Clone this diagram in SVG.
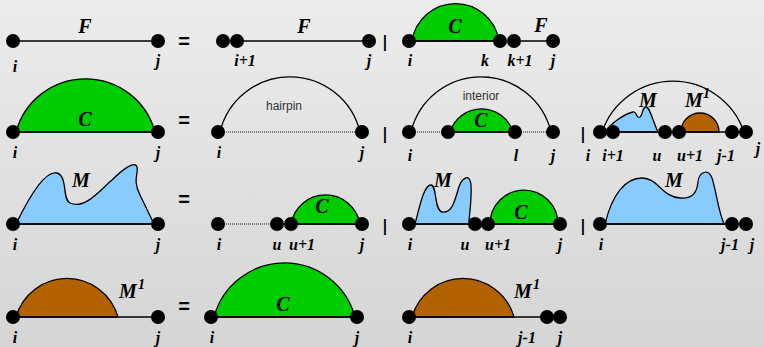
<svg xmlns="http://www.w3.org/2000/svg" width="764" height="347" viewBox="0 0 764 347">
<defs>
<linearGradient id="bg" x1="0" y1="0" x2="0" y2="1">
<stop offset="0" stop-color="#ececec"/>
<stop offset="1" stop-color="#d5d5d5"/>
</linearGradient>
</defs>
<style>
.dot{fill:#000}
.ln{stroke:#000;stroke-width:1.5;fill:none}
.dl{stroke:#555;stroke-width:1.5;stroke-dasharray:1 1;fill:none}
.arc{stroke:#000;stroke-width:1.3;fill:none}
.g{fill:#00cc00;stroke:#000;stroke-width:1.3}
.b{fill:#88ccff;stroke:#000;stroke-width:1.3}
.br{fill:#b36200;stroke:#000;stroke-width:1.3}
.lb{font-family:"Liberation Serif",serif;font-style:italic;font-weight:bold;font-size:16px;text-anchor:middle;fill:#000}
.big{font-family:"Liberation Serif",serif;font-style:italic;font-weight:bold;font-size:20px;text-anchor:middle;fill:#000}
.sup{font-family:"Liberation Serif",serif;font-style:italic;font-weight:bold;font-size:14px;fill:#000}
.op{font-family:"Liberation Sans",sans-serif;font-weight:bold;font-size:20px;text-anchor:middle;fill:#000}
.bar{font-family:"DejaVu Sans",sans-serif;font-weight:bold;font-size:16px;text-anchor:middle;fill:#000}
.sm{font-family:"Liberation Sans",sans-serif;font-size:12px;text-anchor:middle;fill:#333}
</style>
<rect width="764" height="347" fill="url(#bg)"/>

<!-- Row 1 -->
<g id="F_ij">
<line class="ln" x1="13" y1="41" x2="158" y2="41"/>
<circle class="dot" cx="13" cy="41" r="7"/><circle class="dot" cx="158" cy="41" r="7"/>
<text class="big" x="85" y="33">F</text>
<text class="lb" x="15" y="72">i</text><text class="lb" x="158" y="66">j</text>
</g>
<text class="op" x="184" y="48">=</text>
<g id="F_i1j">
<line class="ln" x1="237" y1="41" x2="369" y2="41"/>
<circle class="dot" cx="223" cy="41" r="7"/><circle class="dot" cx="237" cy="41" r="7"/><circle class="dot" cx="369" cy="41" r="7"/>
<text class="big" x="304" y="33">F</text>
<text class="lb" x="245" y="66">i+1</text><text class="lb" x="369" y="66">j</text>
</g>
<text class="bar" x="385" y="47">|</text>
<g id="C_ik_F_k1j">
<path class="g" d="M412,41 A44,44 0 0 1 499,41 Z"/>
<line class="ln" x1="409" y1="41" x2="500" y2="41"/>
<line class="ln" x1="514" y1="41" x2="553" y2="41"/>
<circle class="dot" cx="409" cy="41" r="7"/><circle class="dot" cx="500" cy="41" r="7"/><circle class="dot" cx="514" cy="41" r="7"/><circle class="dot" cx="553" cy="41" r="7"/>
<text class="big" x="455" y="33">C</text><text class="big" x="541" y="32">F</text>
<text class="lb" x="410" y="66">i</text><text class="lb" x="485" y="66">k</text><text class="lb" x="520" y="66">k+1</text><text class="lb" x="553" y="66">j</text>
</g>

<!-- Row 2 -->
<g id="C_ij">
<path class="g" d="M16,132 A72,72 0 0 1 155,132 Z"/>
<line class="ln" x1="13" y1="132" x2="158" y2="132"/>
<circle class="dot" cx="13" cy="132" r="7"/><circle class="dot" cx="158" cy="132" r="7"/>
<text class="big" x="85" y="126">C</text>
<text class="lb" x="15" y="158">i</text><text class="lb" x="158" y="158">j</text>
</g>
<text class="op" x="184" y="127">=</text>
<g id="hairpin">
<path class="arc" d="M220,132 A72,72 0 0 1 360,132"/>
<line class="dl" x1="218" y1="132" x2="362" y2="132"/>
<circle class="dot" cx="218" cy="132" r="7"/><circle class="dot" cx="362" cy="132" r="7"/>
<text class="sm" x="284" y="110">hairpin</text>
<text class="lb" x="219" y="158">i</text><text class="lb" x="362" y="158">j</text>
</g>
<text class="bar" x="385" y="139">|</text>
<g id="interior">
<path class="arc" d="M411,132 A72,72 0 0 1 551,132"/>
<path class="g" d="M450,132 A33,33 0 0 1 513,132 Z"/>
<line class="dl" x1="409" y1="132" x2="448" y2="132"/>
<line class="ln" x1="448" y1="132" x2="515" y2="132"/>
<line class="dl" x1="515" y1="132" x2="553" y2="132"/>
<circle class="dot" cx="409" cy="132" r="7"/><circle class="dot" cx="448" cy="132" r="7"/><circle class="dot" cx="515" cy="132" r="7"/><circle class="dot" cx="553" cy="132" r="7"/>
<text class="sm" x="481" y="100">interior</text>
<text class="big" x="481" y="127">C</text>
<text class="lb" x="410" y="161">i</text><text class="lb" x="516" y="161">l</text><text class="lb" x="553" y="161">j</text>
</g>
<text class="bar" x="583" y="139">|</text>
<g id="multiloop">
<path class="arc" d="M602,132 A75,75 0 0 1 744,132"/>
<path class="b" d="M605,132 C612,122 625,114 633,112 C637,111 636,119 640,117 C643,115 642,107 646,107 C650,107 653,122 658,132 Z"/>
<path class="br" d="M681,132 A19,19 0 0 1 719,132 Z"/>
<line class="ln" x1="600" y1="132" x2="746" y2="132"/>
<circle class="dot" cx="600" cy="132" r="7"/><circle class="dot" cx="613" cy="132" r="7"/><circle class="dot" cx="665" cy="132" r="7"/><circle class="dot" cx="679" cy="132" r="7"/><circle class="dot" cx="732" cy="132" r="7"/><circle class="dot" cx="746" cy="132" r="7"/>
<text class="big" x="648" y="107">M</text>
<text class="big" x="694" y="107">M</text><text class="sup" x="703" y="98">1</text>
<text class="lb" x="588" y="161">i</text><text class="lb" x="613" y="161">i+1</text><text class="lb" x="657" y="161">u</text><text class="lb" x="690" y="161">u+1</text><text class="lb" x="726" y="161">j-1</text><text class="lb" x="758" y="154">j</text>
</g>

<!-- Row 3 -->
<g id="M_ij">
<path class="b" d="M16,224 C30,195 45,170 57,173 C68,176 62,200 70,203 C85,210 100,190 112,180 C122,170 135,160 137,167 C139,172 132,180 140,195 L154,224 Z"/>
<line class="ln" x1="13" y1="224" x2="158" y2="224"/>
<circle class="dot" cx="13" cy="224" r="7"/><circle class="dot" cx="158" cy="224" r="7"/>
<text class="big" x="81" y="187">M</text>
<text class="lb" x="15" y="250">i</text><text class="lb" x="158" y="250">j</text>
</g>
<text class="op" x="184" y="206">=</text>
<g id="M_unpaired_C">
<path class="g" d="M291,224 A35,35 0 0 1 360,224 Z"/>
<line class="dl" x1="218" y1="224" x2="277" y2="224"/>
<line class="ln" x1="291" y1="224" x2="362" y2="224"/>
<circle class="dot" cx="218" cy="224" r="7"/><circle class="dot" cx="277" cy="224" r="7"/><circle class="dot" cx="291" cy="224" r="7"/><circle class="dot" cx="362" cy="224" r="7"/>
<text class="big" x="322" y="213">C</text>
<text class="lb" x="219" y="250">i</text><text class="lb" x="277" y="250">u</text><text class="lb" x="302" y="250">u+1</text><text class="lb" x="362" y="250">j</text>
</g>
<text class="bar" x="385" y="231">|</text>
<g id="M_M_C">
<path class="b" d="M415,224 C420,205 424,185 431,185 C437,185 434,210 442,212 C452,214 455,200 458,190 C461,178 470,172 471,185 C472,200 469,215 469,224 Z"/>
<path class="g" d="M490,224 A34,34 0 0 1 558,224 Z"/>
<line class="ln" x1="409" y1="224" x2="475" y2="224"/>
<line class="ln" x1="488" y1="224" x2="560" y2="224"/>
<circle class="dot" cx="409" cy="224" r="7"/><circle class="dot" cx="475" cy="224" r="7"/><circle class="dot" cx="488" cy="224" r="7"/><circle class="dot" cx="560" cy="224" r="7"/>
<text class="big" x="443" y="187">M</text><text class="big" x="521" y="219">C</text>
<text class="lb" x="410" y="250">i</text><text class="lb" x="465" y="250">u</text><text class="lb" x="498" y="250">u+1</text><text class="lb" x="560" y="250">j</text>
</g>
<text class="bar" x="583" y="231">|</text>
<g id="M_ij1">
<path class="b" d="M605,224 C612,195 625,178 642,178 C658,178 662,197 680,198 C695,199 697,190 698,182 C699,172 708,168 712,178 C716,190 718,210 724,224 Z"/>
<line class="ln" x1="600" y1="224" x2="746" y2="224"/>
<circle class="dot" cx="600" cy="224" r="7"/><circle class="dot" cx="732" cy="224" r="7"/><circle class="dot" cx="746" cy="224" r="7"/>
<text class="big" x="674" y="187">M</text>
<text class="lb" x="601" y="250">i</text><text class="lb" x="730" y="250">j-1</text><text class="lb" x="752" y="250">j</text>
</g>

<!-- Row 4 -->
<g id="M1_ij">
<path class="br" d="M16,317 A53,53 0 0 1 118,317 Z"/>
<line class="ln" x1="13" y1="317" x2="158" y2="317"/>
<circle class="dot" cx="13" cy="317" r="7"/><circle class="dot" cx="158" cy="317" r="7"/>
<text class="big" x="128" y="298">M</text><text class="sup" x="138" y="289">1</text>
<text class="lb" x="15" y="343">i</text><text class="lb" x="158" y="343">j</text>
</g>
<text class="op" x="184" y="313">=</text>
<g id="C_ij_4">
<path class="g" d="M214,317 A73,73 0 0 1 355,317 Z"/>
<line class="ln" x1="211" y1="317" x2="357" y2="317"/>
<circle class="dot" cx="211" cy="317" r="7"/><circle class="dot" cx="357" cy="317" r="7"/>
<text class="big" x="283" y="311">C</text>
<text class="lb" x="212" y="343">i</text><text class="lb" x="357" y="343">j</text>
</g>
<g id="M1_ij1">
<path class="br" d="M412,317 A53,53 0 0 1 514,317 Z"/>
<line class="ln" x1="409" y1="317" x2="547" y2="317"/>
<circle class="dot" cx="409" cy="317" r="7"/><circle class="dot" cx="547" cy="317" r="7"/><circle class="dot" cx="560" cy="317" r="7"/>
<text class="big" x="523" y="298">M</text><text class="sup" x="533" y="289">1</text>
<text class="lb" x="410" y="343">i</text><text class="lb" x="527" y="343">j-1</text><text class="lb" x="560" y="343">j</text>
</g>
</svg>
